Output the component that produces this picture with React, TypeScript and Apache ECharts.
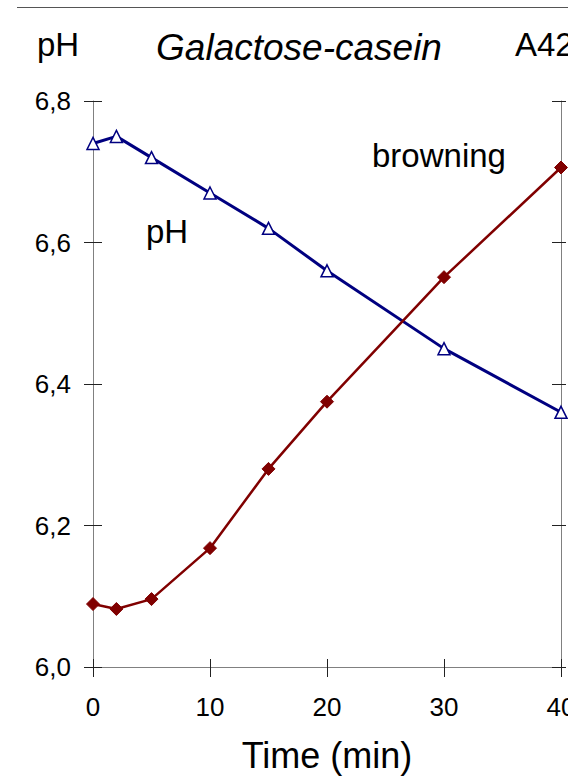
import React, { useEffect, useRef } from "react";
import * as echarts from "echarts";

const timeMin = [0, 2, 5, 10, 15, 20, 30, 40];
const phValues = [6.74, 6.75, 6.72, 6.67, 6.62, 6.56, 6.45, 6.36];
const browningA420 = [0.089, 0.082, 0.096, 0.168, 0.28, 0.375, 0.551, 0.706];
const xTicks = { min: 0, max: 40, interval: 10 };
const phTicks = { min: 6.0, max: 6.8, interval: 0.2 };
const a420Ticks = { min: 0, max: 0.8, interval: 0.2 };

const FONT = "'Liberation Sans', Arial, sans-serif";
const AXIS_GRAY = "#808080";
const TICK = "#222";

export default function App() {
  const ref = useRef<HTMLDivElement>(null);
  useEffect(() => {
    if (!ref.current) return;
    const chart = echarts.init(ref.current, undefined, { renderer: "svg" });
    const hidden = { show: false };
    chart.setOption({
      animation: false,
      backgroundColor: "#fff",
      grid: {
        left: 93,
        right: 7,
        top: 101,
        bottom: 111,
        containLabel: false,
        outerBoundsMode: "none",
      },
      xAxis: [
        {
          type: "value",
          ...xTicks,
          name: "Time (min)",
          nameLocation: "middle",
          nameGap: 70,
          nameTextStyle: { fontSize: 36, color: "#000", fontFamily: FONT },
          axisLine: { show: true, onZero: false, lineStyle: { color: AXIS_GRAY, width: 1 } },
          axisTick: { show: true, inside: false, length: 10, lineStyle: { color: TICK } },
          axisLabel: { fontSize: 26, color: "#000", fontFamily: FONT, margin: 27 },
          splitLine: hidden,
        },
        {
          type: "value",
          ...xTicks,
          position: "bottom",
          axisLine: { show: false, onZero: false },
          axisTick: { show: true, inside: true, length: 8, lineStyle: { color: TICK } },
          axisLabel: hidden,
          splitLine: hidden,
        },
      ],
      yAxis: [
        {
          type: "value",
          ...phTicks,
          position: "left",
          axisLine: { show: true, onZero: false, lineStyle: { color: AXIS_GRAY, width: 1 } },
          axisTick: { show: true, inside: false, length: 9, lineStyle: { color: TICK } },
          axisLabel: {
            fontSize: 26,
            color: "#000",
            fontFamily: FONT,
            margin: 22,
            formatter: (v: number) => v.toFixed(1).replace(".", ","),
          },
          splitLine: hidden,
        },
        {
          type: "value",
          ...phTicks,
          position: "left",
          axisLine: { show: false, onZero: false },
          axisTick: { show: true, inside: true, length: 9, lineStyle: { color: TICK } },
          axisLabel: hidden,
          splitLine: hidden,
        },
        {
          type: "value",
          ...a420Ticks,
          position: "right",
          axisLine: { show: true, onZero: false, lineStyle: { color: AXIS_GRAY, width: 1 } },
          axisTick: { show: true, inside: false, length: 5, lineStyle: { color: TICK } },
          axisLabel: hidden,
          splitLine: hidden,
        },
        {
          type: "value",
          ...a420Ticks,
          position: "right",
          axisLine: { show: false, onZero: false },
          axisTick: { show: true, inside: true, length: 9, lineStyle: { color: TICK } },
          axisLabel: hidden,
          splitLine: hidden,
        },
      ],
      series: [
        {
          name: "pH",
          type: "line",
          xAxisIndex: 0,
          yAxisIndex: 0,
          data: timeMin.map((t, i) => [t, phValues[i]]),
          symbol: "triangle",
          symbolSize: 12,
          lineStyle: { color: "#000080", width: 3 },
          itemStyle: { color: "#fff", borderColor: "#000080", borderWidth: 1.5 },
          clip: false,
          z: 2,
        },
        {
          name: "browning",
          type: "line",
          xAxisIndex: 0,
          yAxisIndex: 2,
          data: timeMin.map((t, i) => [t, browningA420[i]]),
          symbol: "diamond",
          symbolSize: 13,
          lineStyle: { color: "#800000", width: 2.5 },
          itemStyle: { color: "#800000", borderColor: "#800000", borderWidth: 1 },
          clip: false,
          z: 3,
        },
      ],
      graphic: [
        {
          type: "line",
          shape: { x1: 17, y1: 7.5, x2: 568, y2: 7.5 },
          style: { stroke: "#555", lineWidth: 1 },
        },
        {
          type: "text",
          x: 37,
          y: 44.5,
          style: { text: "pH", fontSize: 33, fontFamily: FONT, fill: "#000", align: "left", verticalAlign: "middle" },
        },
        {
          type: "text",
          x: 299,
          y: 47,
          style: {
            text: "Galactose-casein",
            fontSize: 37,
            fontStyle: "italic",
            fontFamily: FONT,
            fill: "#000",
            align: "center",
            verticalAlign: "middle",
          },
        },
        {
          type: "text",
          x: 515,
          y: 44.5,
          style: { text: "A420", fontSize: 33, fontFamily: FONT, fill: "#000", align: "left", verticalAlign: "middle" },
        },
        {
          type: "text",
          x: 146,
          y: 231.5,
          style: { text: "pH", fontSize: 33, fontFamily: FONT, fill: "#000", align: "left", verticalAlign: "middle" },
        },
        {
          type: "text",
          x: 372,
          y: 155.5,
          style: { text: "browning", fontSize: 33, fontFamily: FONT, fill: "#000", align: "left", verticalAlign: "middle" },
        },
      ],
    });
    return () => chart.dispose();
  }, []);
  return (
    <div
      ref={ref}
      style={{ position: "fixed", left: 0, top: 0, width: 568, height: 778, background: "#fff" }}
    />
  );
}
